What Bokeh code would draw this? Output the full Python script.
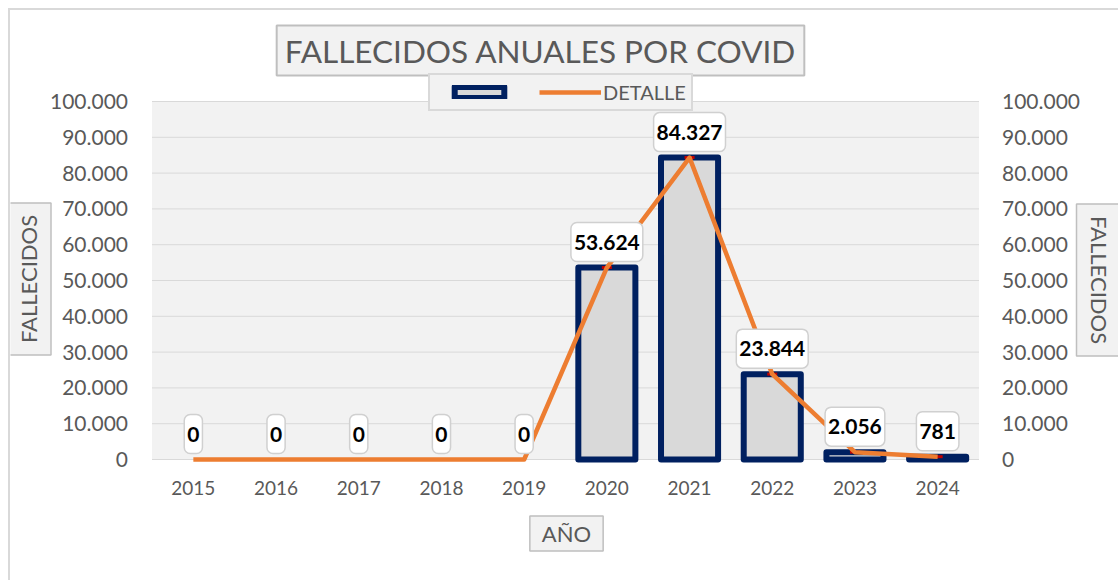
import numpy as np
from bokeh.plotting import figure
from bokeh.models import (ColumnDataSource, FactorRange, Range1d, LinearAxis,
                          FixedTicker, CustomJSTickFormatter, Label,
                          Legend, LegendItem)
from bokeh.embed import file_html
from bokeh.resources import INLINE
from bokeh.core.properties import value

# ---------------- data ----------------
years = ["2015", "2016", "2017", "2018", "2019", "2020", "2021", "2022", "2023", "2024"]
deaths = [0, 0, 0, 0, 0, 53624, 84327, 23844, 2056, 781]
y_ticks = [0, 10000, 20000, 30000, 40000, 50000, 60000, 70000, 80000, 90000, 100000]
title_text = "FALLECIDOS ANUALES POR COVID"
y_title = "FALLECIDOS"
x_title = "AÑO"
line_name = "DETALLE"

# ---------------- layout (pixels) ----------------
FONT = "Lato"
TXT = "#595959"
NAVY = "#002060"
ORANGE = "#ed7d31"
W, H = 1110, 572            # canvas (frame covers the whole canvas)
ORG_X, ORG_Y = 10, 10       # page position of the canvas
CAT_PX = 82.7               # width of one category
PLOT_L, PLOT_Y0 = 151.5, 459.0   # page x of first category edge, page y of value 0
PX_PER_UNIT = 358.0 / 100000

pad_units = (W / CAT_PX - len(years)) / 2
y_start = -((ORG_Y + H) - PLOT_Y0) / PX_PER_UNIT
y_end = (PLOT_Y0 - ORG_Y) / PX_PER_UNIT


def dx(px):  # page x -> synthetic x
    return (px - PLOT_L) / CAT_PX


def dy(py):  # page y -> data y
    return (PLOT_Y0 - py) / PX_PER_UNIT


labels_txt = [f"{v:,}".replace(",", ".") for v in deaths]
bar_alpha = [1.0 if v > 0 else 0.0 for v in deaths]
src = ColumnDataSource(dict(year=years, deaths=deaths, bar_alpha=bar_alpha))

p = figure(x_range=FactorRange(factors=years, range_padding=pad_units,
                               range_padding_units="absolute"),
           y_range=Range1d(y_start, y_end),
           width=W, height=H, output_backend="svg", toolbar_location=None,
           min_border=0, min_border_left=0, min_border_right=0,
           min_border_top=0, min_border_bottom=0)
p.styles = {"margin-left": "8px", "margin-top": "8px",
            "border-left": "2px solid #d9d9d9", "border-top": "2px solid #d9d9d9"}
p.background_fill_color = "white"
p.border_fill_color = "white"
p.outline_line_color = None
p.xgrid.visible = False
p.ygrid.visible = False

# gray plot area and horizontal grid lines (0 .. 100.000)
p.quad(left=[0], right=[len(years)], bottom=[y_ticks[0]], top=[y_ticks[-1]],
       fill_color="#f2f2f2", line_color=None, level="underlay")
p.segment(x0=[0] * len(y_ticks), x1=[len(years)] * len(y_ticks), y0=y_ticks, y1=y_ticks,
          line_color="#d9d9d9", line_width=1, level="underlay")

ticker = FixedTicker(ticks=y_ticks)
fmt = CustomJSTickFormatter(code=r"return Math.round(tick).toString().replace(/\B(?=(\d{3})+(?!\d))/g, '.');")

p.add_layout(LinearAxis(fixed_location=len(years)), "right")
p.yaxis[0].fixed_location = 0
p.xaxis[0].fixed_location = 0

for ax in p.yaxis:
    ax.ticker = ticker
    ax.formatter = fmt
for ax in p.axis:
    ax.axis_line_color = None
    ax.major_tick_line_color = None
    ax.minor_tick_line_color = None
    ax.major_tick_out = 0
    ax.major_tick_in = 0
    ax.minor_tick_out = 0
    ax.major_label_text_font = FONT
    ax.major_label_text_color = TXT
for ax in p.yaxis:
    ax.major_label_text_font_size = "21px"
p.xaxis.major_label_text_font_size = "19px"
p.yaxis[0].major_label_standoff = 24
p.yaxis[1].major_label_standoff = 23
p.xaxis.major_label_standoff = 21

bars = p.vbar(x="year", top="deaths", width=0.69, source=src,
              fill_color="#d9d9d9", line_color=NAVY, line_alpha="bar_alpha",
              line_width=6, line_join="round")
p.scatter(x="year", y="deaths", source=src, marker="dash", size=10,
          line_color="#c00000", line_alpha="bar_alpha", line_width=3)
ln = p.line(x="year", y="deaths", source=src, line_color=ORANGE, line_width=4.5,
            line_join="round")

# data labels (at each category centre)
for i, (v, t) in enumerate(zip(deaths, labels_txt)):
    p.add_layout(Label(x=i + 0.5, y=v, text=t, text_align="center", text_baseline="bottom",
                       y_offset=6, background_fill_color="white",
                       border_line_color="#d0d0d0", border_line_width=1.5,
                       padding=(3, 12), border_radius=6,
                       text_font=FONT, text_font_style="bold",
                       text_font_size="21px", text_color="black"))

# chart title
p.add_layout(Label(x=dx(540), y=dy(50), text=title_text, text_align="center",
                   text_baseline="middle", background_fill_color="#f2f2f2",
                   border_line_color="#bfbfbf", border_line_width=2,
                   padding=(8, 6), text_font=FONT, text_font_size="31.5px",
                   text_color=TXT))

# axis titles
box = dict(text_font=FONT, text_font_size="22px", text_color=TXT,
           text_align="center", text_baseline="middle",
           background_fill_color="#f2f2f2", border_line_color="#bfbfbf",
           border_line_width=1.5)
p.add_layout(Label(x=dx(28), y=dy(278.5), text=y_title, angle=np.pi / 2,
                   padding=(12, 9), **box))
p.add_layout(Label(x=dx(1098.5), y=dy(279.5), text=y_title, angle=-np.pi / 2,
                   padding=(12, 9), **box))
p.add_layout(Label(x=dx(566), y=dy(533), text=x_title, padding=(12, 4), **box))

legend = Legend(items=[LegendItem(label=value(" "), renderers=[bars], index=5),
                       LegendItem(label=value(line_name), renderers=[ln])],
                orientation="horizontal", location=(428 - ORG_X, ORG_Y + H - 111),
                title=" ", title_location="left", title_standoff=4,
                title_text_font_size="8px",
                margin=0, padding=5, spacing=7, glyph_width=62, glyph_height=14,
                label_standoff=2, label_height=20, background_fill_color="#f2f2f2",
                background_fill_alpha=1, border_line_color="#bfbfbf",
                border_line_width=2, label_text_font=FONT,
                label_text_font_size="20px", label_text_color=TXT)
p.add_layout(legend)

open("out.html", "w").write(file_html(p, INLINE))
